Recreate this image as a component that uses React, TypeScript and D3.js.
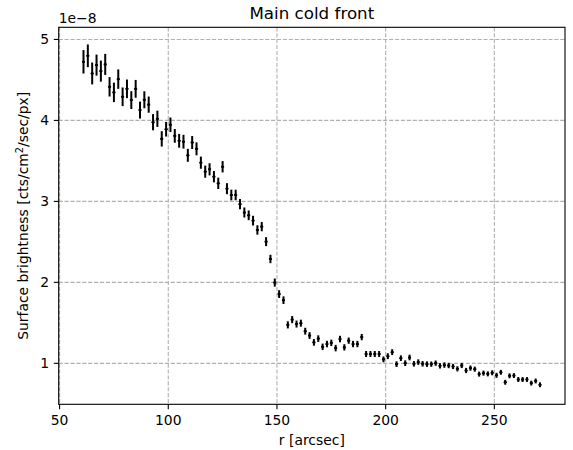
import React from 'react';
import * as d3 from 'd3';

// radius [arcsec]
const R = [
  61, 63, 65, 67, 69, 71, 73, 75, 77, 79,
  81, 83, 85, 87, 89, 91, 93, 95, 97, 99,
  101, 103, 105, 107, 109, 111, 113, 115, 117, 119,
  121, 123, 125, 127, 129, 131, 133, 135, 137, 139,
  141, 143, 145, 147, 149, 151, 153, 155, 157, 159,
  161, 163, 165, 167, 169, 171, 173, 175, 177, 179,
  181, 183, 185, 187, 189, 191, 193, 195, 197, 199,
  201, 203, 205, 207, 209, 211, 213, 215, 217, 219,
  221, 223, 225, 227, 229, 231, 233, 235, 237, 239,
  241, 243, 245, 247, 249, 251, 253, 255, 257, 259,
  261, 263, 265, 267, 269, 271,
];

// surface brightness [1e-8 cts/cm2/sec/px]
const SB = [
  4.724, 4.798, 4.580, 4.683, 4.609, 4.692, 4.415, 4.346, 4.510, 4.292,
  4.390, 4.251, 4.390, 4.128, 4.255, 4.195, 3.978, 4.020, 3.772, 3.891,
  3.946, 3.809, 3.748, 3.737, 3.569, 3.727, 3.649, 3.478, 3.367, 3.396,
  3.305, 3.223, 3.428, 3.157, 3.079, 3.079, 2.966, 2.863, 2.828, 2.762,
  2.647, 2.688, 2.503, 2.289, 1.997, 1.855, 1.780, 1.475, 1.540, 1.485,
  1.496, 1.397, 1.343, 1.259, 1.305, 1.204, 1.238, 1.253, 1.188, 1.300,
  1.197, 1.280, 1.238, 1.238, 1.324, 1.115, 1.115, 1.115, 1.115, 1.049,
  1.088, 1.138, 0.990, 1.064, 1.002, 1.072, 0.994, 1.015, 0.994, 0.990,
  0.990, 1.002, 0.969, 0.978, 0.973, 0.961, 0.932, 0.973, 0.911, 0.941,
  0.928, 0.867, 0.879, 0.870, 0.883, 0.852, 0.889, 0.766, 0.846, 0.849,
  0.800, 0.800, 0.800, 0.756, 0.782, 0.735,
];

// 1-sigma errors
const ERR = [
  0.145, 0.140, 0.135, 0.130, 0.130, 0.130, 0.120, 0.120, 0.120, 0.115,
  0.115, 0.110, 0.110, 0.105, 0.105, 0.100, 0.100, 0.100, 0.095, 0.090,
  0.090, 0.085, 0.085, 0.085, 0.080, 0.080, 0.080, 0.075, 0.075, 0.075,
  0.070, 0.070, 0.070, 0.068, 0.066, 0.065, 0.063, 0.062, 0.060, 0.060,
  0.058, 0.057, 0.055, 0.052, 0.050, 0.048, 0.047, 0.044, 0.044, 0.043,
  0.043, 0.042, 0.042, 0.041, 0.041, 0.040, 0.040, 0.040, 0.040, 0.040,
  0.039, 0.039, 0.039, 0.039, 0.039, 0.037, 0.037, 0.037, 0.037, 0.036,
  0.036, 0.036, 0.035, 0.035, 0.035, 0.035, 0.034, 0.034, 0.034, 0.034,
  0.033, 0.033, 0.033, 0.033, 0.033, 0.032, 0.032, 0.032, 0.032, 0.032,
  0.031, 0.031, 0.031, 0.031, 0.031, 0.031, 0.030, 0.030, 0.030, 0.030,
  0.030, 0.030, 0.030, 0.030, 0.030, 0.030,
];

const XERR = 0.7;
const X_TICKS = [50, 100, 150, 200, 250];
const Y_TICKS = [1, 2, 3, 4, 5];

const W = 573;
const H = 450;
const LEFT = 58.7;
const RIGHT = 565;
const TOP = 27.3;
const BOTTOM = 404.3;
const FONT = '"DejaVu Sans", sans-serif';

export default function App() {
  const x = d3.scaleLinear().domain([49.6, 282.5]).range([LEFT, RIGHT]);
  const y = d3.scaleLinear().domain([0.494, 5.15]).range([BOTTOM, TOP]);
  const pts = R.map((r, i) => ({ r, v: SB[i], e: ERR[i] }));
  const grid = '#b0b0b0';

  return (
    <svg
      width={W}
      height={H}
      viewBox={`0 0 ${W} ${H}`}
      style={{ position: 'absolute', left: 0, top: 0, background: '#fff' }}
      fontFamily={FONT}
    >
      <rect x={0} y={0} width={W} height={H} fill="#fff" />
      {/* grid */}
      {X_TICKS.map((t) => (
        <line key={'gx' + t} x1={x(t)} x2={x(t)} y1={TOP} y2={BOTTOM}
          stroke={grid} strokeWidth={1.1} strokeDasharray="4.1,1.8" />
      ))}
      {Y_TICKS.map((t) => (
        <line key={'gy' + t} x1={LEFT} x2={RIGHT} y1={y(t)} y2={y(t)}
          stroke={grid} strokeWidth={1.1} strokeDasharray="4.1,1.8" />
      ))}
      {/* error bars */}
      {pts.map((p, i) => (
        <g key={'p' + i} stroke="#000">
          <line x1={x(p.r)} x2={x(p.r)} y1={y(p.v - p.e)} y2={y(p.v + p.e)} strokeWidth={2} />
          <line x1={x(p.r - XERR)} x2={x(p.r + XERR)} y1={y(p.v)} y2={y(p.v)} strokeWidth={1.6} />
          <circle cx={x(p.r)} cy={y(p.v)} r={1.3} fill="#000" stroke="none" />
        </g>
      ))}
      {/* spines */}
      <rect x={LEFT} y={TOP} width={RIGHT - LEFT} height={BOTTOM - TOP}
        fill="none" stroke="#000" strokeWidth={1.1} />
      {/* x ticks */}
      {X_TICKS.map((t) => (
        <g key={'xt' + t}>
          <line x1={x(t)} x2={x(t)} y1={BOTTOM} y2={BOTTOM + 4.9} stroke="#000" strokeWidth={1.1} />
          <text x={x(t)} y={BOTTOM + 20.5} fontSize={13.9} textAnchor="middle" fill="#000">{t}</text>
        </g>
      ))}
      {/* y ticks */}
      {Y_TICKS.map((t) => (
        <g key={'yt' + t}>
          <line x1={LEFT - 4.9} x2={LEFT} y1={y(t)} y2={y(t)} stroke="#000" strokeWidth={1.1} />
          <text x={LEFT - 9.7} y={y(t)} dy="0.36em" fontSize={13.9} textAnchor="end" fill="#000">{t}</text>
        </g>
      ))}
      <text x={LEFT} y={23} fontSize={13.9} fill="#000">1e−8</text>
      <text x={(LEFT + RIGHT) / 2} y={19} fontSize={16.7} textAnchor="middle" fill="#000">Main cold front</text>
      <text x={(LEFT + RIGHT) / 2} y={445} fontSize={13.9} textAnchor="middle" fill="#000">r [arcsec]</text>
      <text transform={`translate(28,${(TOP + BOTTOM) / 2}) rotate(-90)`} fontSize={13.9} textAnchor="middle" fill="#000">
        Surface brightness [cts/cm<tspan dy="-5" fontSize={9.7}>2</tspan><tspan dy="5">/sec/px]</tspan>
      </text>
    </svg>
  );
}
